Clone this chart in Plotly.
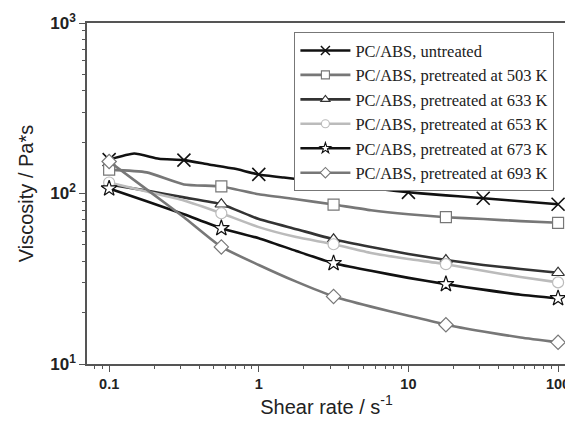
import plotly.graph_objects as go

# Shear rates (s^-1)
rate_untreated = [0.1, 0.147, 0.215, 0.316, 0.464, 0.681, 1.0, 1.47, 2.15, 3.16, 4.64, 6.81,
                  10.0, 14.7, 21.5, 31.6, 46.4, 68.1, 100.0]
rate_treated = [0.1, 0.178, 0.316, 0.562, 1.0, 1.78, 3.16, 5.62, 10.0, 17.8, 31.6, 56.2, 100.0]

# Viscosity (Pa*s)
visc_untreated = [158, 171.5, 160, 157, 148, 140, 129.4, 124, 119.4, 114.5, 110, 105.7,
                  101.6, 98.8, 96.3, 93.8, 91.3, 88.9, 86.5]
visc_503 = [138, 133, 113, 110, 98.9, 92.5, 86.1, 79.8, 75.6, 72.6, 70.8, 68.9, 67.3]
visc_633 = [113, 104, 94.9, 86.5, 70.8, 61.8, 53.9, 48.5, 44.2, 40.7, 38.1, 36.1, 34.3]
visc_653 = [116, 102.8, 91, 76.6, 63.5, 55.5, 50.4, 44.8, 41.3, 38.5, 35.2, 32.4, 30.1]
visc_673 = [107, 90, 75.6, 62.6, 54.7, 46.0, 39.0, 35.2, 32.0, 29.4, 27.3, 25.5, 24.3]
visc_693 = [154, 105.7, 72.6, 48.6, 38.1, 30.4, 24.9, 21.7, 19.2, 17.0, 15.5, 14.3, 13.4]

names = ["PC/ABS, untreated", "PC/ABS, pretreated at 503 K", "PC/ABS, pretreated at 633 K",
         "PC/ABS, pretreated at 653 K", "PC/ABS, pretreated at 673 K", "PC/ABS, pretreated at 693 K"]

x_tickvals = [0.1, 1, 10, 100]
x_ticktext = ["0.1", "1", "10", "100"]
y_tickvals = [10, 100, 1000]
y_ticktext = ["10<sup>1</sup>", "10<sup>2</sup>", "10<sup>3</sup>"]

series = [
    (names[0], rate_untreated, visc_untreated, "#111111", "x-thin-open"),
    (names[1], rate_treated, visc_503, "#777777", "square"),
    (names[2], rate_treated, visc_633, "#333333", "triangle-up"),
    (names[3], rate_treated, visc_653, "#bbbbbb", "circle"),
    (names[4], rate_treated, visc_673, "#111111", "star"),
    (names[5], rate_treated, visc_693, "#777777", "diamond"),
]

fig = go.Figure()
for name, xs, ys, color, sym in series:
    fig.add_trace(go.Scatter(x=xs, y=ys, mode="lines", showlegend=False,
                             line=dict(color=color, width=2.6, shape="spline", smoothing=0.5),
                             hoverinfo="skip"))
    mx = xs[::3]
    my = ys[::3]
    if sym == "x-thin-open":
        mk = dict(symbol=sym, size=13, color=color, line=dict(color=color, width=1.6))
        lmk = dict(symbol=sym, size=9, color=color, line=dict(color=color, width=1.5))
    else:
        mk = dict(symbol=sym, size=11 if sym != "star" else 12, color="white",
                  line=dict(color=color, width=1.2))
        lmk = dict(symbol=sym, size=8, color="white", line=dict(color=color, width=1.1))
    fig.add_trace(go.Scatter(x=mx, y=my, mode="markers", marker=mk, showlegend=False,
                             cliponaxis=False))
    fig.add_trace(go.Scatter(x=[None], y=[None], mode="lines+markers", name=name,
                             line=dict(color=color, width=2.6), marker=lmk))

axis_common = dict(
    type="log", showgrid=False, zeroline=False, showline=True, linecolor="#555555",
    linewidth=1.5, ticks="outside", ticklen=6, tickwidth=1.2, tickcolor="#555555",
    minor=dict(ticks="outside", ticklen=3, tickwidth=1, tickcolor="#555555", dtick="D1",
               showgrid=False),
)

fig.update_layout(
    width=565, height=419,
    margin=dict(l=79, r=3, t=13, b=63),
    plot_bgcolor="white", paper_bgcolor="white",
    xaxis=dict(axis_common, range=[-1.148, 2.053], mirror=True,
               tickvals=x_tickvals, ticktext=x_ticktext, ticklabeloverflow="allow",
               tickfont=dict(family="Arial, Liberation Sans", size=14.5, color="#222222",
                             weight="bold"),
               title=dict(text="Shear rate / s<sup>-1</sup>",
                          font=dict(family="Arial, Liberation Sans", size=20, color="#222222"),
                          standoff=7)),
    yaxis=dict(axis_common, range=[1, 3],
               tickvals=y_tickvals, ticktext=y_ticktext,
               tickfont=dict(family="Arial, Liberation Sans", size=17, color="#222222",
                             weight="bold"),
               title=dict(text="Viscosity / Pa*s",
                          font=dict(family="Arial, Liberation Sans", size=20, color="#222222"),
                          standoff=11)),
    legend=dict(x=0.433, y=0.973, xanchor="left", yanchor="top",
                bordercolor="#777777", borderwidth=1, bgcolor="white",
                font=dict(family="Liberation Serif, Times New Roman", size=16.5, color="#222222"),
                itemwidth=50, tracegroupgap=0),
)

fig.write_html("out.html")
